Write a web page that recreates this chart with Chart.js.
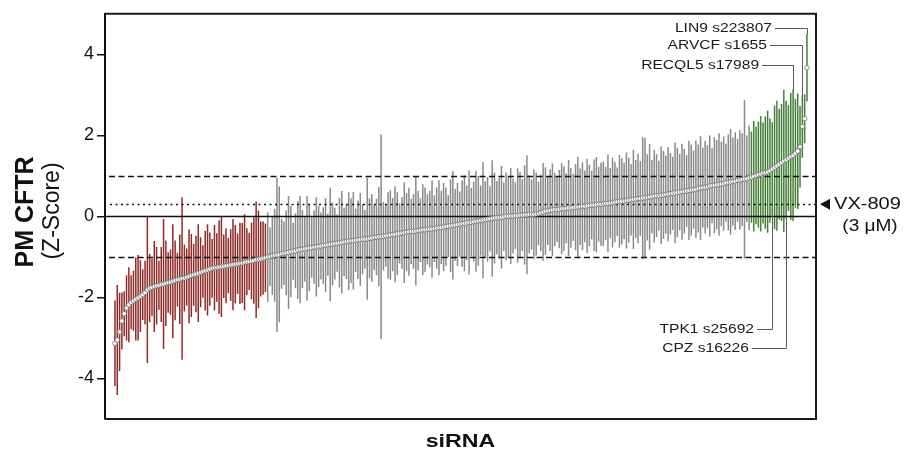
<!DOCTYPE html>
<html><head><meta charset="utf-8">
<script src="https://cdn.jsdelivr.net/npm/chart.js@4/dist/chart.umd.min.js"></script>
<style>html,body{margin:0;padding:0;background:#fff;}#wrap{width:906px;height:459px;}</style>
</head><body><div id="wrap"><canvas id="c" width="906" height="459"></canvas></div>
<script>
// Sorted siRNA Z-scores (mean)
const zMeans = [
-3.13,-3.05,-2.85,-2.58,-2.40,-2.26,-2.18,-2.12,-2.08,-2.04,
-2.01,-1.97,-1.93,-1.88,-1.81,-1.77,-1.75,-1.73,-1.71,-1.70,
-1.68,-1.67,-1.65,-1.63,-1.62,-1.60,-1.58,-1.56,-1.55,-1.53,
-1.52,-1.50,-1.48,-1.46,-1.44,-1.42,-1.40,-1.38,-1.36,-1.34,
-1.32,-1.30,-1.28,-1.27,-1.26,-1.25,-1.24,-1.23,-1.22,-1.21,
-1.20,-1.19,-1.18,-1.17,-1.16,-1.15,-1.13,-1.12,-1.11,-1.10,
-1.09,-1.07,-1.06,-1.05,-1.03,-1.02,-1.00,-0.99,-0.97,-0.96,
-0.95,-0.94,-0.92,-0.91,-0.90,-0.89,-0.87,-0.86,-0.85,-0.83,
-0.82,-0.81,-0.80,-0.79,-0.78,-0.77,-0.76,-0.75,-0.74,-0.73,
-0.72,-0.71,-0.70,-0.69,-0.68,-0.67,-0.66,-0.65,-0.64,-0.63,
-0.62,-0.61,-0.60,-0.60,-0.59,-0.58,-0.57,-0.56,-0.56,-0.55,
-0.54,-0.53,-0.52,-0.51,-0.50,-0.50,-0.49,-0.48,-0.47,-0.46,
-0.45,-0.44,-0.43,-0.42,-0.41,-0.40,-0.39,-0.38,-0.37,-0.37,
-0.36,-0.35,-0.34,-0.33,-0.33,-0.32,-0.31,-0.31,-0.30,-0.29,
-0.28,-0.27,-0.26,-0.25,-0.24,-0.23,-0.22,-0.21,-0.20,-0.19,
-0.18,-0.17,-0.16,-0.15,-0.14,-0.13,-0.12,-0.11,-0.10,-0.09,
-0.08,-0.07,-0.06,-0.05,-0.04,-0.03,-0.03,-0.02,-0.01,0.00,
0.00,0.01,0.01,0.02,0.02,0.03,0.03,0.04,0.04,0.05,
0.05,0.05,0.06,0.07,0.09,0.11,0.13,0.14,0.15,0.16,
0.17,0.17,0.18,0.19,0.19,0.20,0.21,0.21,0.22,0.23,
0.23,0.24,0.25,0.25,0.26,0.27,0.28,0.28,0.29,0.30,
0.30,0.31,0.32,0.32,0.33,0.34,0.35,0.36,0.37,0.37,
0.38,0.39,0.40,0.41,0.42,0.43,0.44,0.44,0.45,0.46,
0.47,0.48,0.49,0.50,0.51,0.51,0.52,0.53,0.54,0.55,
0.56,0.57,0.58,0.59,0.60,0.61,0.62,0.63,0.64,0.65,
0.66,0.67,0.69,0.70,0.71,0.72,0.73,0.75,0.76,0.77,
0.78,0.79,0.80,0.81,0.83,0.84,0.85,0.86,0.87,0.89,
0.90,0.91,0.92,0.93,0.95,0.97,0.99,1.01,1.03,1.05,
1.07,1.08,1.10,1.13,1.17,1.21,1.25,1.29,1.33,1.37,
1.40,1.44,1.48,1.51,1.56,1.61,1.72,2.22,2.41,3.67
];
// Error (± SD) for each siRNA
const zSD = [
1.05,1.35,0.96,0.70,0.55,0.80,0.92,0.66,0.74,1.02,
1.05,0.88,0.62,0.78,1.80,0.84,0.70,1.12,0.95,0.60,
0.92,1.60,1.05,0.74,0.80,1.40,0.98,0.66,1.10,2.00,
0.82,0.70,1.15,1.02,0.76,0.94,1.20,0.86,0.64,0.98,
1.12,0.90,0.72,1.05,0.84,1.15,1.24,0.78,0.92,0.68,
0.88,1.12,0.96,0.74,1.00,0.98,1.18,0.82,0.70,0.94,
1.06,1.43,1.20,0.92,0.90,0.84,1.10,0.72,0.96,1.14,
1.90,1.67,0.86,0.78,1.04,1.39,1.12,0.70,0.92,1.20,
1.32,0.96,0.80,1.28,1.06,0.74,0.90,1.22,1.00,0.82,
0.94,1.16,0.76,1.39,1.02,0.88,0.70,1.10,1.26,0.84,
0.92,1.20,1.04,1.20,0.78,0.96,1.14,0.86,0.72,1.50,
0.98,1.08,0.80,0.94,1.22,2.52,0.84,0.76,1.06,1.10,
0.90,1.18,1.02,0.74,0.88,1.24,0.96,1.08,0.80,0.92,
1.34,0.98,0.78,1.12,1.04,0.86,0.94,1.20,0.82,1.00,
1.17,0.90,1.08,0.96,0.76,1.14,1.33,0.88,1.02,0.80,
1.06,1.18,0.92,1.28,0.84,0.98,1.24,1.10,0.86,1.43,
0.94,1.04,0.80,1.43,1.12,0.90,0.98,1.26,0.84,1.08,
1.00,1.18,0.92,0.82,1.16,1.06,0.88,1.22,1.46,0.96,
0.86,1.10,1.02,0.78,0.94,1.20,1.08,0.84,1.00,1.14,
0.90,0.80,0.96,1.12,1.04,0.86,1.18,0.98,0.82,1.06,
1.24,0.94,1.08,0.88,1.16,1.00,0.84,1.12,1.17,0.92,
1.02,1.04,0.90,1.20,0.86,1.10,0.98,0.84,1.14,1.06,
0.94,1.18,1.04,0.88,1.22,0.96,1.10,0.92,1.50,1.47,
1.06,1.30,0.90,1.14,1.02,0.86,1.20,1.08,0.96,1.16,
1.00,0.90,1.24,1.10,0.94,1.18,1.04,0.88,1.22,1.12,
0.96,1.20,1.08,1.28,0.98,1.14,1.02,1.24,0.92,1.18,
1.10,1.26,1.04,1.16,0.96,1.18,1.30,1.08,1.20,1.02,
1.22,1.14,1.95,1.06,1.28,1.12,1.36,1.20,1.30,1.42,
1.24,1.38,1.50,1.28,1.15,1.52,1.60,1.36,1.44,1.75,
1.45,1.30,1.56,1.62,1.34,1.42,1.00,0.77,0.60,0.83
];
const yTicks = [-4, -2, 0, 2, 4];
const lowCut = -1;      // hits below: red
const highCut = 0.96;   // hits above: green
const vx809 = 0.3;      // VX-809 (3 µM) reference Z-score
const cutoffs = [1, -1];
const hitLabels = ['LIN9 s223807', 'ARVCF s1655', 'RECQL5 s17989', 'TPK1 s25692', 'CPZ s16226'];
const hitIndex  = [299, 297, 293, 284, 290];
const hitEnd    = ['top', 'top', 'top', 'bottom', 'bottom'];

// layout for the annotation labels (label z-level, leader start in index units)
const hitLabelZ = [4.65, 4.22, 3.73, -2.77, -3.25];
const hitLineStart = [285.2, 283.0, 279.6, 277.4, 275.2];

const RED = '#8e2b27', GREY = '#8a8a8a', GREEN = '#447f38';
function groupColor(m) { return m < lowCut ? RED : (m >= highCut ? GREEN : GREY); }

const barData = zMeans.map((m, i) => ({ x: i, y: [m - zSD[i], m + zSD[i]] }));
const ptData = zMeans.map((m, i) => ({ x: i, y: m }));

function stretchText(ctx, s, x, y, font, align, sx) {
  ctx.save();
  ctx.font = font;
  ctx.textBaseline = 'middle';
  ctx.textAlign = 'left';
  const w = ctx.measureText(s).width * sx;
  const x0 = align === 'right' ? x - w : (align === 'center' ? x - w / 2 : x);
  ctx.translate(x0, y);
  ctx.scale(sx, 1);
  ctx.fillText(s, 0, 0);
  ctx.restore();
}

const overlay = {
  id: 'overlay',
  afterDatasetDraw(chart, args) {
    if (args.index !== 0) return;
    const { ctx, chartArea: a, scales: { y } } = chart;
    ctx.save();
    ctx.strokeStyle = '#111';
    ctx.lineWidth = 1.6;
    ctx.setLineDash([6, 3.5]);
    cutoffs.forEach(v => {
      const py = Math.round(y.getPixelForValue(v)) + 0.5;
      ctx.beginPath(); ctx.moveTo(a.left + 4, py); ctx.lineTo(a.right, py); ctx.stroke();
    });
    ctx.setLineDash([2, 3.5]);
    {
      const py = Math.round(y.getPixelForValue(vx809)) + 0.5;
      ctx.beginPath(); ctx.moveTo(a.left + 5, py); ctx.lineTo(a.right, py); ctx.stroke();
    }
    ctx.setLineDash([]);
    ctx.lineWidth = 1.6;
    {
      const py = Math.round(y.getPixelForValue(0)) + 0.5;
      ctx.beginPath(); ctx.moveTo(a.left, py); ctx.lineTo(a.right, py); ctx.stroke();
    }
    ctx.restore();
  },
  afterDraw(chart) {
    const { ctx, chartArea: a, scales: { x, y } } = chart;
    ctx.save();
    ctx.strokeStyle = '#1a1a1a';
    ctx.lineWidth = 2;
    ctx.beginPath();
    ctx.moveTo(a.left, a.top); ctx.lineTo(a.right, a.top); ctx.lineTo(a.right, a.bottom); ctx.lineTo(a.left, a.bottom);
    ctx.stroke();

    ctx.strokeStyle = '#5a5a5a';
    ctx.lineWidth = 1;
    ctx.fillStyle = '#1a1a1a';
    hitLabels.forEach((lab, k) => {
      const i = hitIndex[k];
      const px = Math.round(x.getPixelForValue(i)) + 0.5;
      const ly = Math.round(y.getPixelForValue(hitLabelZ[k])) + 0.5;
      const lx = x.getPixelForValue(hitLineStart[k]);
      const endZ = hitEnd[k] === 'top' ? zMeans[i] + zSD[i] : zMeans[i] - zSD[i];
      const ey = y.getPixelForValue(endZ);
      ctx.beginPath();
      ctx.moveTo(lx, ly); ctx.lineTo(px, ly); ctx.lineTo(px, ey);
      ctx.stroke();
      stretchText(ctx, lab, lx - 3, ly, '13px "Liberation Sans", Arial, sans-serif', 'right', 1.2);
    });

    const vy = y.getPixelForValue(vx809);
    ctx.fillStyle = '#111';
    ctx.beginPath();
    ctx.moveTo(a.right + 4, vy); ctx.lineTo(a.right + 14, vy - 5.5); ctx.lineTo(a.right + 14, vy + 5.5); ctx.closePath();
    ctx.fill();
    stretchText(ctx, 'VX-809', a.right + 18, vy, '17px "Liberation Sans", Arial, sans-serif', 'left', 1.18);
    stretchText(ctx, '(3 μM)', a.right + 54, vy + 22, '17px "Liberation Sans", Arial, sans-serif', 'center', 1.12);

    stretchText(ctx, 'siRNA', (a.left + a.right) / 2, 442, 'bold 19px "Liberation Sans", Arial, sans-serif', 'center', 1.22);
    ctx.save();
    ctx.translate(26, 212);
    ctx.rotate(-Math.PI / 2);
    ctx.font = 'bold 25px "Liberation Sans", Arial, sans-serif';
    ctx.textAlign = 'center'; ctx.textBaseline = 'middle';
    ctx.fillText('PM CFTR', 0, 0);
    ctx.restore();
    ctx.save();
    ctx.translate(53, 211);
    ctx.rotate(-Math.PI / 2);
    ctx.font = '23px "Liberation Sans", Arial, sans-serif';
    ctx.textAlign = 'center'; ctx.textBaseline = 'middle';
    ctx.fillText('(Z-Score)', 0, 0);
    ctx.restore();
    ctx.restore();
  }
};

new Chart(document.getElementById('c'), {
  type: 'bar',
  data: {
    datasets: [
      {
        type: 'bar',
        data: barData,
        backgroundColor: c => groupColor(zMeans[c.dataIndex]),
        barThickness: 1.1,
        borderWidth: 0,
        inflateAmount: 0.2,
        order: 2
      },
      {
        type: 'scatter',
        data: ptData,
        pointRadius: 2.3,
        pointBackgroundColor: '#ffffff',
        pointBorderColor: '#6e6e6e',
        pointBorderWidth: 0.8,
        showLine: false,
        order: 1
      }
    ]
  },
  options: {
    responsive: false,
    animation: false,
    devicePixelRatio: 1,
    layout: { padding: { left: 0, right: 90, top: 5, bottom: 0 } },
    plugins: { legend: { display: false }, tooltip: { enabled: false } },
    scales: {
      x: {
        type: 'linear', min: -4.3, max: 302.9, offset: false,
        ticks: { display: false }, grid: { display: false }, border: { display: false },
        afterFit: s => { s.height = 40; }
      },
      y: {
        min: -5, max: 5,
        afterBuildTicks: s => { s.ticks = yTicks.map(v => ({ value: v })); },
        ticks: { font: { family: '"Liberation Sans", Arial, sans-serif', size: 18 }, color: '#111', padding: 3 },
        grid: { drawOnChartArea: false, drawTicks: true, tickLength: 8, color: '#111', lineWidth: 1.5 },
        border: { display: true, color: '#111', width: 2 },
        afterFit: s => { s.width = 105; }
      }
    }
  },
  plugins: [overlay]
});
</script>
</body></html>
